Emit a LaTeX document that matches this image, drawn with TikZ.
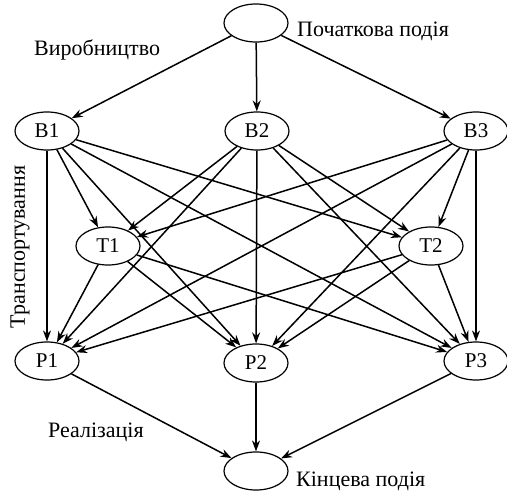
\documentclass[tikz,border=0pt]{standalone}
\usepackage{fontspec}
\setmainfont{Liberation Serif}
\usetikzlibrary{shapes.geometric,arrows.meta}
\begin{document}
\begin{tikzpicture}[x=1pt,y=-1pt,
  ev/.style={draw,ellipse,line width=1.2pt,minimum width=64pt,minimum height=38pt,inner sep=0pt,font=\fontsize{21}{23}\selectfont},
  arr/.style={line width=1.5pt,-{Stealth[length=11pt,width=8pt]}},
  lab/.style={font=\fontsize{22}{24}\selectfont,inner sep=0pt}]
\useasboundingbox (0,0) rectangle (507,495);
\node[ev] (S) at (256,23) {};
\node[ev] (B1) at (47,131) {В1};
\node[ev] (B2) at (257,131) {В2};
\node[ev] (B3) at (476,131) {В3};
\node[ev] (T1) at (108,246) {Т1};
\node[ev] (T2) at (431,246) {Т2};
\node[ev] (P1) at (47,361) {Р1};
\node[ev] (P2) at (256,363) {Р2};
\node[ev] (P3) at (476,361) {Р3};
\node[ev] (F) at (256,471) {};
\node[lab,anchor=west] (l1) at (297,31) {Початкова подія};
\node[lab,anchor=west] (l2) at (34,50) {Виробництво};
\node[lab,rotate=90] (l3) at (20,247) {Транспортування};
\node[lab,anchor=west] (l4) at (48,432) {Реалізація};
\node[lab,anchor=west] (l5) at (296,481) {Кінцева подія};
\foreach \b in {B1,B2,B3} {\draw[arr] (S) -- (\b);}
\foreach \b in {B1,B2,B3} {
  \foreach \t in {T1,T2,P1,P2,P3} {\draw[arr] (\b) -- (\t);}
}
\foreach \t in {T1,T2} {
  \foreach \p in {P1,P2,P3} {\draw[arr] (\t) -- (\p);}
}
\foreach \p in {P1,P2,P3} {\draw[arr] (\p) -- (F);}
\end{tikzpicture}
\end{document}
